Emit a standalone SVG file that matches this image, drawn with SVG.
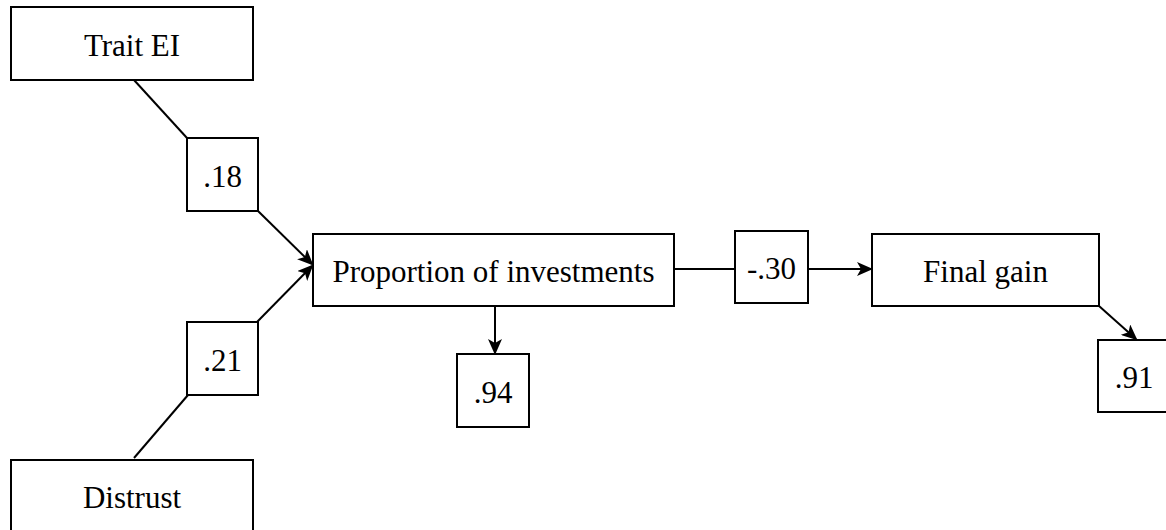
<svg xmlns="http://www.w3.org/2000/svg" width="1166" height="530" viewBox="0 0 1166 530">
<style>
.box{fill:#fff;stroke:#000;stroke-width:2}
.t{font-family:"Liberation Serif","Times New Roman",serif;font-size:31px;fill:#000;text-anchor:middle}
.c{fill:none;stroke:#000;stroke-width:2}
</style>
<defs>
<marker id="ah" markerUnits="userSpaceOnUse" markerWidth="16" markerHeight="14" refX="14" refY="7" orient="auto" viewBox="0 0 16 14">
<path d="M0,0 L16,7 L0,14 L4,7 z" fill="#000"/>
</marker>
</defs>
<rect width="1166" height="530" fill="#fff"/>
<g id="connectors">
<line class="c" x1="134" y1="80" x2="187" y2="138"/>
<line class="c" x1="258" y1="211" x2="312" y2="264" marker-end="url(#ah)"/>
<line class="c" x1="134" y1="458" x2="188" y2="395"/>
<line class="c" x1="257" y1="322" x2="312" y2="266" marker-end="url(#ah)"/>
<line class="c" x1="495" y1="306" x2="495" y2="353" marker-end="url(#ah)"/>
<line class="c" x1="675" y1="269" x2="735" y2="269"/>
<line class="c" x1="808" y1="269" x2="871" y2="269" marker-end="url(#ah)"/>
<line class="c" x1="1099" y1="306" x2="1136" y2="339" marker-end="url(#ah)"/>
</g>
<g id="trait-ei"><rect class="box" x="11" y="7" width="242" height="73"/><text class="t" x="132" y="56">Trait EI</text></g>
<g id="distrust"><rect class="box" x="11" y="460" width="242" height="73"/><text class="t" x="132" y="508">Distrust</text></g>
<g id="w18"><rect class="box" x="187" y="138" width="71" height="73"/><text class="t" x="222.5" y="187">.18</text></g>
<g id="w21"><rect class="box" x="187" y="322" width="71" height="73"/><text class="t" x="222.5" y="371">.21</text></g>
<g id="proportion"><rect class="box" x="313" y="234" width="361" height="72"/><text class="t" x="493.5" y="282">Proportion of investments</text></g>
<g id="w94"><rect class="box" x="457" y="354" width="72" height="73"/><text class="t" x="493" y="403">.94</text></g>
<g id="w30"><rect class="box" x="735" y="231" width="73" height="72"/><text class="t" x="771.5" y="279">-.30</text></g>
<g id="final-gain"><rect class="box" x="872" y="234" width="227" height="72"/><text class="t" x="985.5" y="282">Final gain</text></g>
<g id="w91"><rect class="box" x="1098" y="340" width="73" height="72"/><text class="t" x="1134" y="388">.91</text></g>
</svg>
